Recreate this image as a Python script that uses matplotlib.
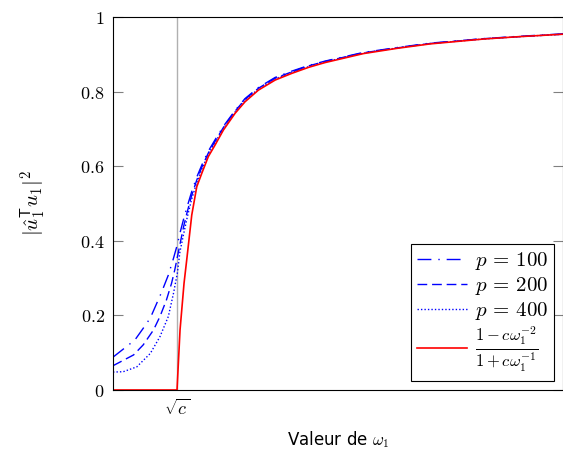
import numpy as np
import matplotlib
matplotlib.use("Agg")
import matplotlib.pyplot as plt

plt.rcParams['mathtext.fontset'] = 'cm'
plt.rcParams['font.family'] = ['DejaVu Sans']

# omega axis: sqrt(c) placed at 1, axis 0..7
sqrt_c = 1.0

# red curve (theory)
w_th = [0.0, 0.995, 1.042, 1.104, 1.146, 1.224, 1.302, 1.38, 1.482, 1.587, 1.716,
        1.898, 2.053, 2.26, 2.52, 2.78, 3.038, 3.298, 3.893, 4.413, 4.931, 5.76, 6.279, 7.0]
v_th = [0.0, 0.0, 0.161, 0.286, 0.349, 0.469, 0.545, 0.581, 0.626, 0.657, 0.697,
        0.742, 0.773, 0.804, 0.831, 0.849, 0.865, 0.878, 0.902, 0.916, 0.928, 0.941, 0.947, 0.954]

# simulations (common part above sqrt(c))
w_hi = [1.04, 1.1, 1.15, 1.22, 1.3, 1.38, 1.48, 1.59, 1.72, 1.9, 2.05, 2.26, 2.52,
        2.78, 3.04, 3.3, 3.89, 4.41, 4.93, 5.76, 6.28, 7.0]

w_100 = [0.0, 0.34, 0.46, 0.58, 0.75, 0.86, 0.94, 1.0] + w_hi
v_100 = [0.088, 0.134, 0.163, 0.193, 0.26, 0.308, 0.353, 0.39,
         0.42, 0.46, 0.49, 0.53, 0.57, 0.603, 0.64, 0.672, 0.708, 0.75, 0.781, 0.811, 0.838,
         0.855, 0.87, 0.882, 0.905, 0.918, 0.93, 0.942, 0.948, 0.955]

w_200 = [0.0, 0.32, 0.47, 0.63, 0.73, 0.83, 0.91, 0.96] + w_hi
v_200 = [0.065, 0.094, 0.121, 0.161, 0.197, 0.241, 0.286, 0.322,
         0.39, 0.44, 0.475, 0.52, 0.562, 0.597, 0.635, 0.668, 0.705, 0.748, 0.779, 0.809, 0.836,
         0.853, 0.869, 0.881, 0.904, 0.917, 0.929, 0.942, 0.947, 0.954]

w_400 = [0.0, 0.16, 0.37, 0.58, 0.73, 0.86, 0.94, 1.0] + w_hi
v_400 = [0.048, 0.049, 0.062, 0.098, 0.143, 0.197, 0.259, 0.313,
         0.37, 0.42, 0.46, 0.51, 0.555, 0.592, 0.632, 0.665, 0.702, 0.746, 0.777, 0.807, 0.834,
         0.852, 0.867, 0.88, 0.903, 0.917, 0.929, 0.941, 0.947, 0.954]

yticks = [0, 0.2, 0.4, 0.6, 0.8, 1]
ytick_labels = ['$0$', '$0.2$', '$0.4$', '$0.6$', '$0.8$', '$1$']

fig = plt.figure(figsize=(5.63, 4.55), dpi=100)
ax = fig.add_axes([0.2007, 0.1429, 0.8, 0.8197])

ax.axvline(sqrt_c, color='#b0b0b0', lw=1.0, zorder=1)

ax.plot(w_100, v_100, color='blue', lw=1.0, dashes=(10, 5, 1, 5), label=r'$p\,=\,100$')
ax.plot(w_200, v_200, color='blue', lw=1.0, dashes=(7, 3.5), label=r'$p\,=\,200$')
ax.plot(w_400, v_400, color='blue', lw=1.0, dashes=(1, 1.5), label=r'$p\,=\,400$')
ax.plot(w_th, v_th, color='red', lw=1.2,
        label=r'$\frac{1-c\omega_1^{-2}}{1+c\omega_1^{-1}}$')

ax.set_xlim(0, 7)
ax.set_ylim(0, 1)
ax.set_yticks(yticks)
ax.set_yticklabels(ytick_labels, fontsize=13)
ax.set_xticks([sqrt_c])
ax.set_xticklabels([r'$\sqrt{c}$'], fontsize=13)
ax.tick_params(axis='y', direction='in', length=7, color='gray', right=True, pad=6)
ax.tick_params(axis='x', direction='in', length=0, pad=6)

ax.set_xlabel(r'Valeur de $\omega_1$', fontsize=12, labelpad=8)
ax.set_ylabel(r'$|\hat{u}_1^{\mathsf{T}}u_1|^2$', fontsize=15, labelpad=24)

leg = ax.legend(loc='lower right', fontsize=15, handlelength=2.4, handletextpad=0.35,
                borderaxespad=0.45, fancybox=False, framealpha=1, edgecolor='black',
                labelspacing=0.15, borderpad=0.3)
leg.get_frame().set_linewidth(0.8)
leg.get_texts()[3].set_fontsize(17)

fig.savefig('out.png', dpi=100)
